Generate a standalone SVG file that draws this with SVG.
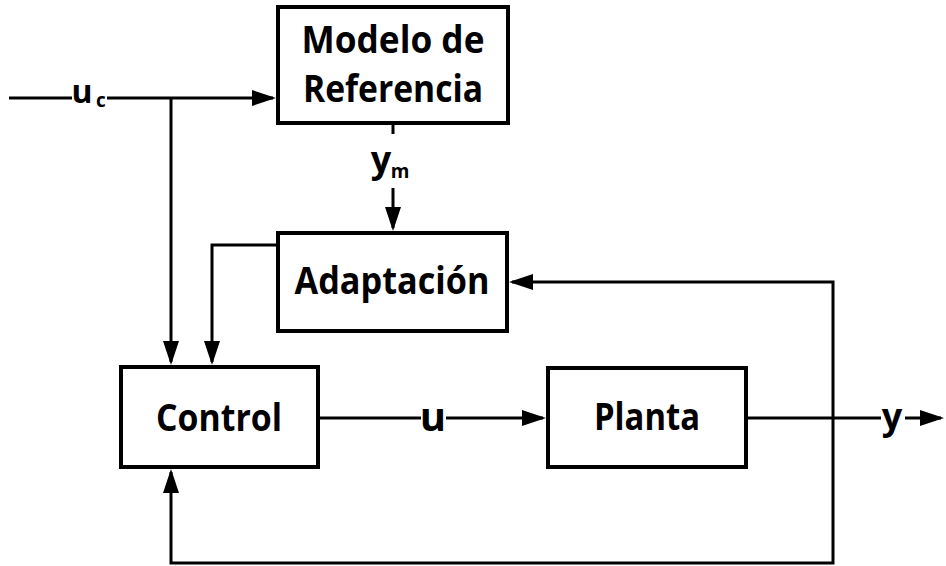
<svg xmlns="http://www.w3.org/2000/svg" width="946" height="566" viewBox="0 0 946 566">
<defs>
<style>
.box{fill:#fff;stroke:#000;stroke-width:4;stroke-linejoin:miter}
.lbl{font-family:"Open Sans","Liberation Sans",sans-serif;font-weight:bold;font-size:38px;fill:#000;text-anchor:middle}
.sig{font-family:"Open Sans","Liberation Sans",sans-serif;font-weight:bold;fill:#000}
.ln{fill:none;stroke:#000;stroke-width:3}
</style>
<marker id="ah" viewBox="0 0 24 16" refX="21" refY="8" markerWidth="24" markerHeight="16" markerUnits="userSpaceOnUse" orient="auto">
<path d="M0,0 L24,8 L0,16 Z" fill="#000"/>
</marker>
</defs>
<rect width="946" height="566" fill="#fff"/>
<g id="connectors">
<path class="ln" d="M9,98 H72"/>
<path class="ln" d="M107,98 H273" marker-end="url(#ah)"/>
<path class="ln" d="M171,98 V362" marker-end="url(#ah)"/>
<path class="ln" d="M393,123 V134"/>
<path class="ln" d="M393,188 V228" marker-end="url(#ah)"/>
<path class="ln" d="M278,245 H212 V362" marker-end="url(#ah)"/>
<path class="ln" d="M318,418 H421"/>
<path class="ln" d="M446,418 H543" marker-end="url(#ah)"/>
<path class="ln" d="M746,418 H881"/>
<path class="ln" d="M905,418 H941" marker-end="url(#ah)"/>
<path class="ln" d="M833,418 V282 H512" marker-end="url(#ah)"/>
<path class="ln" d="M833,418 V563 H171 V472" marker-end="url(#ah)"/>
<text class="sig" x="82" y="103" font-size="32" text-anchor="middle">u</text>
<text class="sig" x="101" y="107" font-size="19" text-anchor="middle">c</text>
<text class="sig" x="381" y="172" font-size="36" text-anchor="middle">y</text>
<text class="sig" x="400" y="178" font-size="19" text-anchor="middle">m</text>
<text class="sig" x="433" y="431" font-size="40" text-anchor="middle">u</text>
<text class="sig" x="892" y="429" font-size="36" text-anchor="middle">y</text>
</g>
<g id="modelo">
<rect class="box" x="278" y="7" width="230" height="116"/>
<text class="lbl" x="393" y="53" textLength="183" lengthAdjust="spacingAndGlyphs">Modelo de</text>
<text class="lbl" x="393" y="102" textLength="180" lengthAdjust="spacingAndGlyphs">Referencia</text>
</g>
<g id="adaptacion">
<rect class="box" x="278" y="233" width="229" height="98"/>
<text class="lbl" x="392" y="294" textLength="195" lengthAdjust="spacingAndGlyphs">Adaptación</text>
</g>
<g id="control">
<rect class="box" x="121" y="367" width="197" height="100"/>
<text class="lbl" x="219" y="431" textLength="126" lengthAdjust="spacingAndGlyphs">Control</text>
</g>
<g id="planta">
<rect class="box" x="548" y="368" width="198" height="99"/>
<text class="lbl" x="647" y="430" textLength="106" lengthAdjust="spacingAndGlyphs">Planta</text>
</g>
</svg>
